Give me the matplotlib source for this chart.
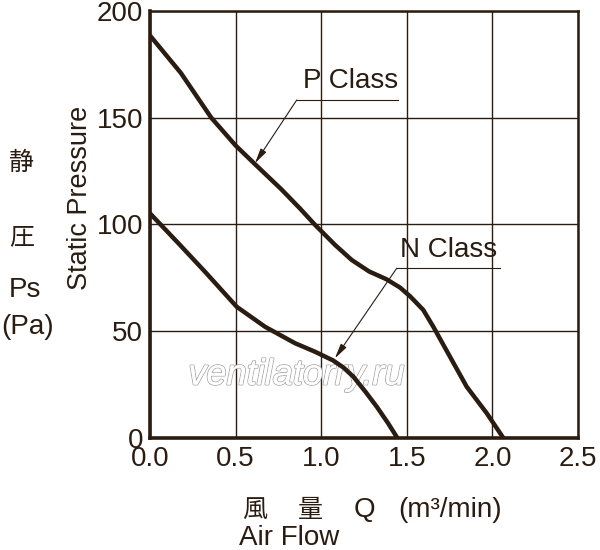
import matplotlib
matplotlib.use("Agg")
import matplotlib.pyplot as plt
import matplotlib.patheffects as pe

plt.rcParams['font.family'] = ['Liberation Sans', 'Noto Sans CJK JP', 'DejaVu Sans']

ink = '#2a1c10'

# air flow (m3/min) vs static pressure (Pa)
p_flow = [0.0, 0.18, 0.358, 0.5, 0.61, 0.767, 0.876, 0.962, 1.08, 1.178, 1.28,
          1.38, 1.46, 1.52, 1.596, 1.655, 1.752, 1.85, 1.967, 2.064]
p_pres = [188.5, 171, 150, 137, 128.5, 116.5, 107.5, 100, 90.5, 83.4, 78,
          74.4, 70.5, 66.3, 60, 52.1, 38.1, 24, 11.6, 0]

n_flow = [0.0, 0.166, 0.321, 0.506, 0.672, 0.847, 0.964, 1.07, 1.13, 1.188, 1.26,
          1.324, 1.39, 1.445]
n_pres = [105.2, 91.2, 77.9, 61.5, 52.1, 44.4, 40.4, 36.3, 33, 28.7, 21.5,
          14.7, 7, 0]

x_ticks = [0.0, 0.5, 1.0, 1.5, 2.0, 2.5]
y_ticks = [0, 50, 100, 150, 200]

fig = plt.figure(figsize=(6, 5.5), dpi=100)
ax = fig.add_axes([150 / 600, 1 - 438 / 550, 428 / 600, 427 / 550])

for fx, fy in [(p_flow, p_pres), (n_flow, n_pres)]:
    ax.plot(fx, fy, color=ink, lw=3.2, solid_capstyle='butt', solid_joinstyle='round',
            zorder=3)

ax.set_xlim(0, 2.5)
ax.set_ylim(0, 200)
ax.set_xticks(x_ticks)
ax.set_xticklabels([f'{v:.1f}' for v in x_ticks])
ax.set_yticks(y_ticks)
ax.grid(True, color=ink, lw=1.0)
ax.tick_params(length=0, labelsize=20, colors=ink)
ax.tick_params(axis='y', pad=5)
ax.tick_params(axis='x', pad=6)
for s in ax.spines.values():
    s.set_color(ink)
    s.set_linewidth(1.8)
ax.spines['left'].set_linewidth(2.6)
ax.spines['bottom'].set_linewidth(2.6)

# class labels with leader lines
arrow = dict(arrowstyle='-|>,head_length=0.9,head_width=0.2',
             color=ink, lw=0.8, shrinkA=0, shrinkB=0)
ax.text(1.17, 161, 'P Class', fontsize=20, color=ink, ha='center', va='bottom', zorder=4)
ax.plot([0.857, 1.45], [158.3, 158.3], color=ink, lw=0.8)
ax.annotate('', xy=(0.613, 128.7), xytext=(0.857, 158.3), arrowprops=arrow)

ax.text(1.745, 82, 'N Class', fontsize=20, color=ink, ha='center', va='bottom', zorder=4)
ax.plot([1.441, 2.044], [79.5, 79.5], color=ink, lw=0.8)
ax.annotate('', xy=(1.08, 37.3), xytext=(1.441, 79.5), arrowprops=arrow)

# watermark
wm = ax.text(0.856, 29.5, 'ventilatorry.ru', fontsize=26, style='italic', color='white',
             ha='center', va='center', zorder=2)
wm.set_path_effects([pe.withStroke(linewidth=1.3, foreground='#a8a8a8'), pe.Normal()])

# axis titles
def put(x, y, s, size=20, **kw):
    fig.text(x / 600, 1 - y / 550, s, fontsize=size, color=ink, va='center', **kw)

put(22, 163, '静', 18, ha='center')
put(22, 237, '圧', 18, ha='center')
put(25, 290, 'Ps', ha='center')
put(28, 327, '(Pa)', ha='center')
put(80, 198, 'Static Pressure', 19.5, ha='center', rotation=90)

put(255, 510, '風', 18, ha='center')
put(310, 510, '量', 18, ha='center')
put(364, 510, 'Q', ha='center')
put(398, 510, '(m³/min)', ha='left')
put(289, 538, 'Air Flow', ha='center')

fig.savefig('out.png', dpi=100, facecolor='white')
